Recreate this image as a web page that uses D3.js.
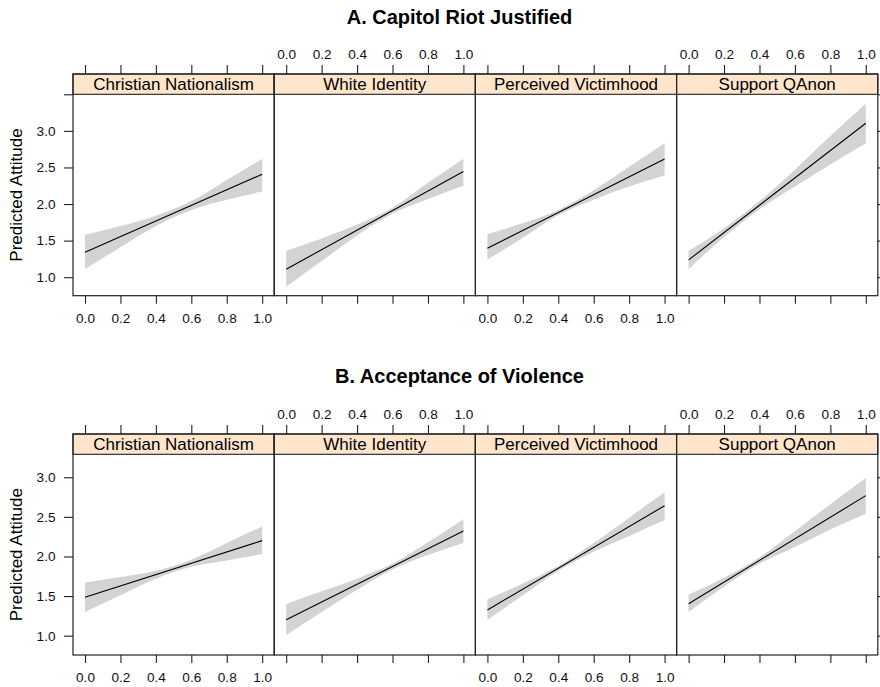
<!DOCTYPE html>
<html>
<head>
<meta charset="utf-8">
<script src="https://cdn.jsdelivr.net/npm/d3@7"></script>
<style>
  html, body { margin: 0; padding: 0; background: #fff; }
  svg { display: block; font-family: "Liberation Sans", Arial, Helvetica, sans-serif; }
</style>
</head>
<body>
<svg id="chart" width="880" height="687"></svg>
<script>
// ---------------- data ----------------
const predictors = ["Christian Nationalism", "White Identity", "Perceived Victimhood", "Support QAnon"];
const sectionTitles = ["A. Capitol Riot Justified", "B. Acceptance of Violence"];
const yLabel = "Predicted Attitude";
const xTicks = [0, 0.2, 0.4, 0.6, 0.8, 1.0];
const yTicks = [1.0, 1.5, 2.0, 2.5, 3.0, 3.5];
const yTickLabels = ["1.0", "1.5", "2.0", "2.5", "3.0", ""];
const xGrid = [0, 0.2, 0.4, 0.6, 0.8, 1.0];

// fitted line at x = 0 and x = 1
const fitA = [[1.342, 2.408], [1.109, 2.444], [1.396, 2.617], [1.236, 3.105]];
const fitB = [[1.485, 2.200], [1.202, 2.322], [1.324, 2.641], [1.404, 2.768]];

// confidence band, read at xGrid
const lowerA = [
  [1.11, 1.41, 1.70, 1.92, 2.06, 2.17],
  [0.87, 1.22, 1.57, 1.87, 2.07, 2.25],
  [1.24, 1.54, 1.85, 2.06, 2.24, 2.39],
  [1.11, 1.55, 1.93, 2.24, 2.54, 2.83]
];
const upperA = [
  [1.58, 1.70, 1.84, 2.04, 2.33, 2.62],
  [1.36, 1.53, 1.72, 1.95, 2.29, 2.62],
  [1.59, 1.74, 1.92, 2.19, 2.51, 2.83],
  [1.36, 1.67, 2.04, 2.47, 2.93, 3.37]
];
const lowerB = [
  [1.30, 1.51, 1.72, 1.87, 1.95, 2.03],
  [1.01, 1.30, 1.58, 1.84, 2.02, 2.17],
  [1.20, 1.51, 1.82, 2.06, 2.26, 2.46],
  [1.30, 1.62, 1.91, 2.12, 2.34, 2.54]
];
const upperB = [
  [1.67, 1.74, 1.82, 1.96, 2.17, 2.38],
  [1.40, 1.56, 1.72, 1.91, 2.18, 2.47],
  [1.46, 1.66, 1.88, 2.17, 2.49, 2.81],
  [1.52, 1.73, 1.99, 2.32, 2.66, 2.99]
];
const yDomainA = [0.747, 3.5];
const yDomainB = [0.756, 3.29];

// ---------------- layout ----------------
const svg = d3.select("#chart");
const panelLeft = 73, panelW = 201.2, stripH = 20.3;
const xPad = 0.0678;
const tickLen = 9;
const tickFont = 13.6, stripFont = 17, labelFont = 17, titleFont = 20;
const titleX = 459.5;

const sections = [
  { title: sectionTitles[0], titleY: 23.5, stripTop: 74, panelBottom: 295.7, fit: fitA, lower: lowerA, upper: upperA, yDomain: yDomainA },
  { title: sectionTitles[1], titleY: 382.7, stripTop: 434, panelBottom: 655, fit: fitB, lower: lowerB, upper: upperB, yDomain: yDomainB }
];
const fmt = d3.format(".1f");

sections.forEach(sec => {
  const panelTop = sec.stripTop + stripH;
  const y = d3.scaleLinear().domain(sec.yDomain).range([sec.panelBottom, panelTop]);
  const yIn = yTicks.map((v, i) => ({ v, lab: yTickLabels[i] })).filter(d => d.v >= sec.yDomain[0] - 1e-9 && d.v <= sec.yDomain[1] + 1e-9);

  svg.append("text")
    .attr("x", titleX).attr("y", sec.titleY)
    .attr("text-anchor", "middle")
    .attr("font-size", titleFont).attr("font-weight", "bold")
    .attr("fill", "#000")
    .text(sec.title);

  // y label
  svg.append("text")
    .attr("transform", `translate(21.5,${(panelTop + sec.panelBottom) / 2}) rotate(-90)`)
    .attr("text-anchor", "middle")
    .attr("font-size", labelFont)
    .attr("fill", "#000")
    .text(yLabel);

  predictors.forEach((name, i) => {
    const x0 = panelLeft + i * panelW;
    const x = d3.scaleLinear().domain([-xPad, 1 + xPad]).range([x0, x0 + panelW]);
    const g = svg.append("g");

    // band
    const bandData = xGrid.map((xv, k) => ({ x: xv, lo: sec.lower[i][k], hi: sec.upper[i][k] }));
    g.append("path")
      .datum(bandData)
      .attr("fill", "#d3d3d3")
      .attr("stroke", "none")
      .attr("d", d3.area().x(d => x(d.x)).y0(d => y(d.lo)).y1(d => y(d.hi)).curve(d3.curveMonotoneX));

    // fitted line
    g.append("path")
      .datum([{ x: 0, v: sec.fit[i][0] }, { x: 1, v: sec.fit[i][1] }])
      .attr("fill", "none").attr("stroke", "#000").attr("stroke-width", 1.1)
      .attr("d", d3.line().x(d => x(d.x)).y(d => y(d.v)));

    // strip
    g.append("rect")
      .attr("x", x0).attr("y", sec.stripTop)
      .attr("width", panelW).attr("height", stripH)
      .attr("fill", "#ffe5cc").attr("stroke", "#222").attr("stroke-width", 1.1);
    g.append("text")
      .attr("x", x0 + panelW / 2).attr("y", sec.stripTop + stripH - 4)
      .attr("text-anchor", "middle")
      .attr("font-size", stripFont).attr("fill", "#000")
      .text(name);

    // panel border
    g.append("rect")
      .attr("x", x0).attr("y", sec.stripTop)
      .attr("width", panelW).attr("height", sec.panelBottom - sec.stripTop)
      .attr("fill", "none").attr("stroke", "#222").attr("stroke-width", 1.2);

    // top axis (labels on even panels 2 & 4)
    const topAx = d3.axisTop(x).tickValues(xTicks).tickSize(tickLen).tickPadding(6.5)
      .tickFormat(i % 2 === 1 ? fmt : () => "");
    const gt = svg.append("g").attr("transform", `translate(0,${sec.stripTop})`).call(topAx);
    // bottom axis (labels on panels 1 & 3)
    const botAx = d3.axisBottom(x).tickValues(xTicks).tickSize(8).tickPadding(9.5)
      .tickFormat(i % 2 === 0 ? fmt : () => "");
    const gb = svg.append("g").attr("transform", `translate(0,${sec.panelBottom})`).call(botAx);
    [gt, gb].forEach(ga => {
      ga.select(".domain").remove();
      ga.selectAll(".tick line").attr("stroke", "#222").attr("stroke-width", 1.1);
      ga.selectAll(".tick text").attr("font-size", tickFont).attr("fill", "#111")
        .attr("font-family", "'Liberation Sans', Arial, sans-serif");
    });

    if (i === 0) {
      const leftAx = d3.axisLeft(y).tickValues(yIn.map(d => d.v)).tickSize(tickLen).tickPadding(8.5)
        .tickFormat((d, k) => yIn[k].lab);
      const gl = svg.append("g").attr("transform", `translate(${x0},0)`).call(leftAx);
      gl.select(".domain").remove();
      gl.selectAll(".tick line").attr("stroke", "#222").attr("stroke-width", 1.1);
      gl.selectAll(".tick text").attr("font-size", tickFont).attr("fill", "#111")
        .attr("font-family", "'Liberation Sans', Arial, sans-serif");
    }
    if (i === predictors.length - 1) {
      const rightAx = d3.axisRight(y).tickValues(yIn.map(d => d.v)).tickSize(tickLen).tickFormat(() => "");
      const gr = svg.append("g").attr("transform", `translate(${x0 + panelW},0)`).call(rightAx);
      gr.select(".domain").remove();
      gr.selectAll(".tick line").attr("stroke", "#222").attr("stroke-width", 1.1);
    }
  });
});
</script>
</body>
</html>
